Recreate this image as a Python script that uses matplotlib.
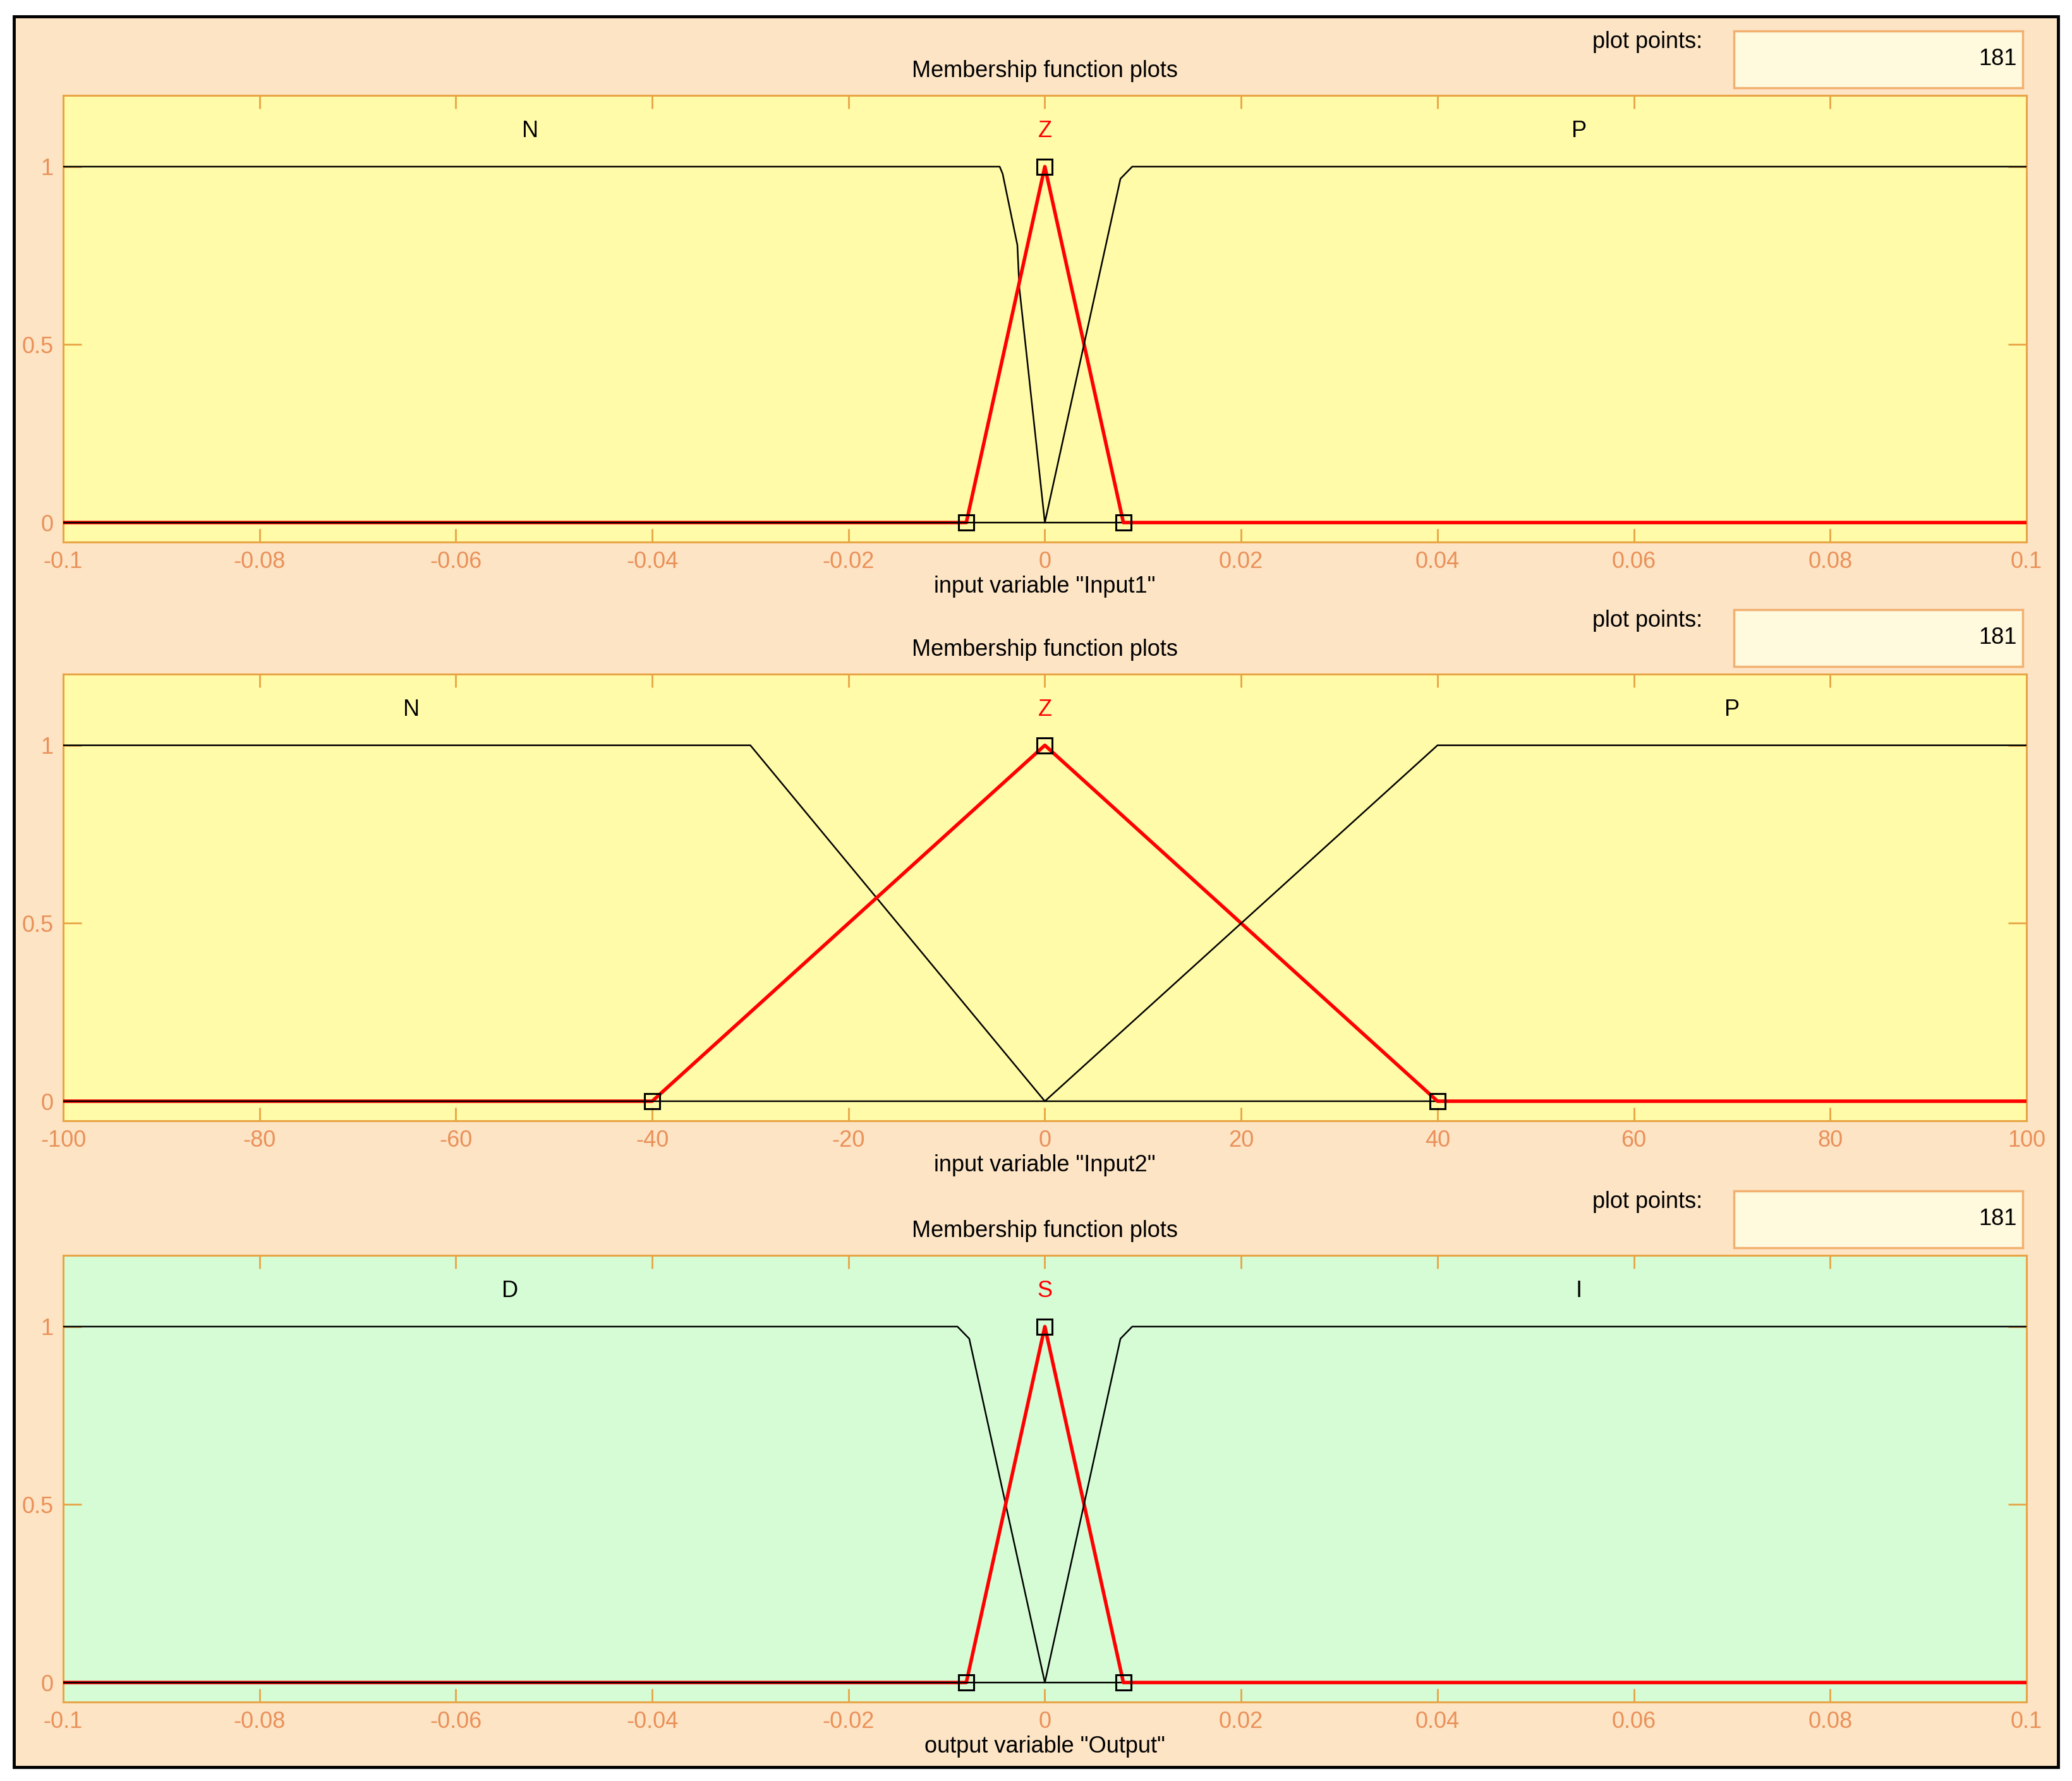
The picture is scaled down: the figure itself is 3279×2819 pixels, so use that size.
import matplotlib
matplotlib.use("Agg")
import matplotlib.pyplot as plt
from matplotlib.patches import Rectangle

plt.rcParams['font.family'] = ['Liberation Sans', 'DejaVu Sans']

# ---- data (membership functions) ----
in1_ticks = [-0.1, -0.08, -0.06, -0.04, -0.02, 0, 0.02, 0.04, 0.06, 0.08, 0.1]
in1_ticklabels = ['-0.1', '-0.08', '-0.06', '-0.04', '-0.02', '0', '0.02', '0.04', '0.06', '0.08', '0.1']
in1_N_x = [-0.1, -0.0046, -0.0043, -0.0028, -0.0026, 0.0, 0.1]
in1_N_y = [1, 1, 0.98, 0.78, 0.66, 0, 0]
in1_Z_x = [-0.1, -0.008, 0.0, 0.008, 0.1]
in1_Z_y = [0, 0, 1, 0, 0]
in1_P_x = [-0.1, 0.0, 0.0077, 0.0089, 0.1]
in1_P_y = [0, 0, 0.966, 1, 1]
in1_names = ['N', 'Z', 'P']
in1_label_x = [-0.0524, 0.0, 0.0544]

in2_ticks = [-100, -80, -60, -40, -20, 0, 20, 40, 60, 80, 100]
in2_ticklabels = ['-100', '-80', '-60', '-40', '-20', '0', '20', '40', '60', '80', '100']
in2_N_x = [-100, -30, 0, 100]
in2_N_y = [1, 1, 0, 0]
in2_Z_x = [-100, -40, 0, 40, 100]
in2_Z_y = [0, 0, 1, 0, 0]
in2_P_x = [-100, 0, 40, 100]
in2_P_y = [0, 0, 1, 1]
in2_names = ['N', 'Z', 'P']
in2_label_x = [-64.5, 0, 70]

out_D_x = [-0.1, -0.0089, -0.0077, 0.0, 0.1]
out_D_y = [1, 1, 0.966, 0, 0]
out_S_x = [-0.1, -0.008, 0.0, 0.008, 0.1]
out_S_y = [0, 0, 1, 0, 0]
out_I_x = [-0.1, 0.0, 0.0077, 0.0089, 0.1]
out_I_y = [0, 0, 0.966, 1, 1]
out_names = ['D', 'S', 'I']
out_label_x = [-0.0545, 0.0, 0.0544]

xlabels = ['input variable "Input1"', 'input variable "Input2"', 'output variable "Output"']
plot_points = '181'

# ---- colours ----
peach = '#FDE4C5'
yellow = '#FFFBA8'
green = '#D6FCD6'
orange = '#E8A445'
tickcol = '#EA9058'
fs = 26

fig = plt.figure(figsize=(32.8, 28.19), dpi=100, facecolor='white')
frame = Rectangle((22 / 3280, 1 - 2797 / 2819), (3257 - 22) / 3280, (2797 - 26) / 2819,
                  transform=fig.transFigure, facecolor=peach, edgecolor='black',
                  linewidth=3.5, zorder=-10)
fig.patches.append(frame)

panels = [
    (0.6956, yellow, in1_ticks, in1_ticklabels, (-0.1, 0.1),
     [(in1_N_x, in1_N_y), (in1_Z_x, in1_Z_y), (in1_P_x, in1_P_y)], in1_names, in1_label_x),
    (0.3707, yellow, in2_ticks, in2_ticklabels, (-100, 100),
     [(in2_N_x, in2_N_y), (in2_Z_x, in2_Z_y), (in2_P_x, in2_P_y)], in2_names, in2_label_x),
    (0.0443, green, in1_ticks, in1_ticklabels, (-0.1, 0.1),
     [(out_D_x, out_D_y), (out_S_x, out_S_y), (out_I_x, out_I_y)], out_names, out_label_x),
]

for i, (bottom, bg, ticks, ticklabels, xlim, mfs, names, lab_x) in enumerate(panels):
    ax = fig.add_axes([100 / 3280, bottom, 3107 / 3280, 0.2508])
    ax.set_facecolor(bg)
    ax.set_xlim(*xlim)
    ax.set_ylim(-0.055, 1.2)

    # first MF black, selected MF red, last MF black
    ax.plot(mfs[0][0], mfs[0][1], color='black', lw=1.8, zorder=3)
    ax.plot(mfs[1][0], mfs[1][1], color='red', lw=4, zorder=3)
    ax.plot(mfs[2][0], mfs[2][1], color='black', lw=1.8, zorder=3)
    ax.plot(mfs[1][0][1:4], mfs[1][1][1:4], ls='none', marker='s', ms=17,
            mfc='none', mec='black', mew=2.2, zorder=4)

    for j in range(3):
        ax.text(lab_x[j], 1.1, names[j], ha='center', va='center', fontsize=fs,
                color='red' if j == 1 else 'black')

    ax.set_xticks(ticks)
    ax.set_xticklabels(ticklabels)
    ax.set_yticks([0, 0.5, 1])
    ax.set_yticklabels(['0', '0.5', '1'])
    ax.tick_params(axis='both', direction='in', top=True, right=True, color=orange,
                   labelcolor=tickcol, labelsize=fs, width=2)
    ax.tick_params(axis='x', length=15, pad=10)
    ax.tick_params(axis='y', length=21, pad=11)
    for sp in ax.spines.values():
        sp.set_color(orange)
        sp.set_linewidth(2.2)

    ax.text(0.5, -0.1, xlabels[i], transform=ax.transAxes, ha='center', va='center', fontsize=fs)
    ax.text(0.5, 1.054, 'Membership function plots', transform=ax.transAxes,
            ha='center', va='center', fontsize=fs)
    ax.text(0.835, 1.119, 'plot points:', transform=ax.transAxes, ha='right', va='center', fontsize=fs)
    box = Rectangle((0.851, 1.017), 0.147, 0.127, transform=ax.transAxes, facecolor='#FFF9DE',
                    edgecolor='#F2B070', linewidth=2.5, clip_on=False)
    ax.add_patch(box)
    ax.text(0.995, 1.081, plot_points, transform=ax.transAxes, ha='right', va='center', fontsize=fs)

plt.savefig('out.png', dpi=100, facecolor=fig.get_facecolor())
